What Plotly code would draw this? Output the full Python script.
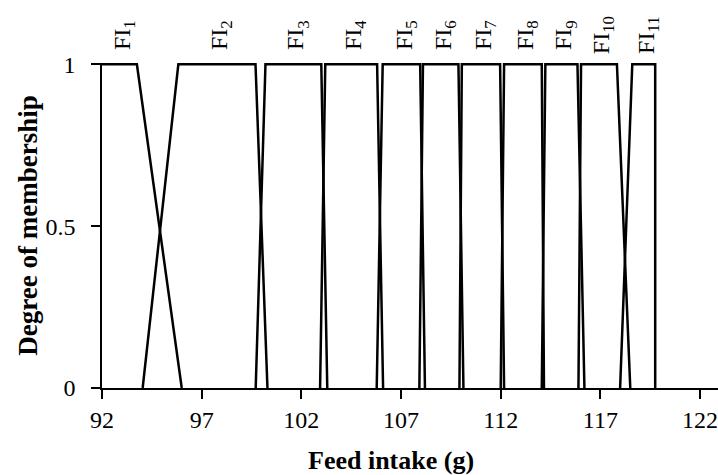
import plotly.graph_objects as go

# Trapezoidal membership functions for feed intake (g):
# left foot, left shoulder, right shoulder, right foot
set_index = [1, 2, 3, 4, 5, 6, 7, 8, 9, 10, 11]
left_foot = [92.00, 94.04, 99.71, 102.94, 105.78, 107.92, 109.93, 112.00, 114.06, 115.90, 117.99]
left_shoulder = [92.00, 95.83, 100.20, 103.20, 106.08, 108.10, 110.05, 112.17, 114.24, 116.03, 118.60]
right_shoulder = [93.75, 99.70, 103.00, 105.80, 107.96, 109.88, 111.97, 114.06, 115.85, 117.83, 119.75]
right_foot = [96.00, 100.30, 103.30, 106.10, 108.20, 110.13, 112.17, 114.17, 116.20, 118.50, 119.75]

x_ticks = [92, 97, 102, 107, 112, 117, 122]
y_ticks = [0, 0.5, 1]
x_range = [92, 122.9]

SERIF = "Liberation Serif, Times New Roman, serif"

WIDTH, HEIGHT = 718, 475
M_L, M_R, M_T, M_B = 102, 0, 10, 87
plot_w = WIDTH - M_L - M_R
plot_h = HEIGHT - M_T - M_B
main_top = 1 - 53 / plot_h          # main panel: y = 1 sits just below the set names
label_domain = [0.900, 0.967]       # strip above the panel that holds the set names

fig = go.Figure()

for k, a, b, c, d in zip(set_index, left_foot, left_shoulder, right_shoulder, right_foot):
    # a left-shoulder set (foot == shoulder) has no rising edge to draw
    xs = [b, c, d] if a == b else [a, b, c, d]
    ys = [1, 1, 0] if a == b else [0, 1, 1, 0]
    fig.add_trace(go.Scatter(
        x=xs, y=ys,
        mode="lines",
        line=dict(color="black", width=2.5),
        showlegend=False,
        hoverinfo="skip",
    ))

# each set name is the (vertical) title of a bare axis placed over the set's plateau
label_axes = {}
for i, (k, b, c) in enumerate(zip(set_index, left_shoulder, right_shoulder)):
    n = i + 2
    center = (b + c) / 2
    center_px = (center - x_range[0]) / (x_range[1] - x_range[0]) * plot_w
    pos = min(1.0, (center_px + 19) / plot_w)
    fig.add_trace(go.Scatter(
        x=[center], y=[0.5],
        xaxis="x", yaxis=f"y{n}",
        mode="markers", marker=dict(opacity=0, size=1),
        showlegend=False, hoverinfo="skip",
    ))
    label_axes[f"yaxis{n}"] = dict(
        anchor="free", position=pos, side="left",
        domain=label_domain, range=[0, 1],
        showticklabels=False, ticks="", showline=False,
        showgrid=False, zeroline=False, fixedrange=True,
        title=dict(text=f"FI<sub>{k}</sub>", standoff=0,
                   font=dict(family=SERIF, size=24, color="black")),
    )

fig.update_layout(
    width=WIDTH, height=HEIGHT,
    margin=dict(l=M_L, r=M_R, t=M_T, b=M_B),
    plot_bgcolor="white",
    paper_bgcolor="white",
    **label_axes,
)

fig.layout.xaxis.update(
    range=x_range,
    tickvals=x_ticks,
    ticktext=[str(v) for v in x_ticks],
    ticks="outside", ticklen=9, tickwidth=1.5, tickcolor="black",
    showline=True, linecolor="black", linewidth=1.5,
    showgrid=False, zeroline=False,
    ticklabeloverflow="allow",
    tickfont=dict(family=SERIF, size=24, color="black"),
)

fig.layout.yaxis.update(
    domain=[0, main_top],
    range=[0, 1.004],
    tickvals=y_ticks,
    ticktext=["0", "0.5", "1"],
    ticks="outside", ticklen=9, tickwidth=1.5, tickcolor="black",
    showline=True, linecolor="black", linewidth=1.5,
    showgrid=False, zeroline=False,
    tickfont=dict(family=SERIF, size=24, color="black"),
    ticklabelstandoff=11,
    title=dict(text="<b>Degree of membership</b>", font=dict(family=SERIF, size=27, color="black"), standoff=0),
)

fig.add_annotation(
    x=106.5, xref="x",
    y=0, yref="paper",
    yshift=-72,
    text="<b>Feed intake (g)</b>",
    showarrow=False,
    xanchor="center", yanchor="middle",
    font=dict(family=SERIF, size=26, color="black"),
)

fig.write_html("out.html")
